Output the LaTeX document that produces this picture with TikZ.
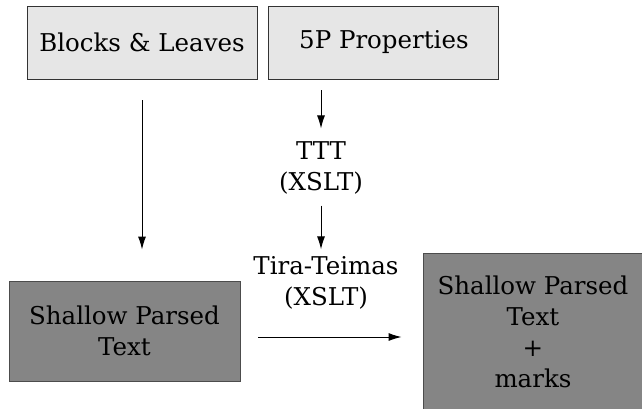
\documentclass[tikz,border=0pt]{standalone}
\usepackage{fontspec}
\setmainfont{DejaVu Serif}
\usetikzlibrary{positioning,arrows.meta,calc}

\definecolor{lightbox}{RGB}{230,230,230}
\definecolor{darkbox}{RGB}{133,133,133}

\begin{document}
\begin{tikzpicture}[
        x=1pt, y=-1pt,
        font=\fontsize{24.5}{31}\selectfont,
        block/.style={rectangle, draw=black!80, line width=0.9pt, text centered, minimum height=73pt, minimum width=230pt, fill=lightbox},
        result/.style={rectangle, draw=black!70, line width=0.9pt, align=center, fill=darkbox, inner sep=0pt},
        label/.style={align=center, inner sep=0pt},
        line/.style={draw, -{Latex[length=13pt,width=8pt]}, line width=1pt}
    ]
    \useasboundingbox (0,0) rectangle (642,408);

    % nodes
    \node[block] (blocks) at (142,42.5) {Blocks \& Leaves};
    \node[block, right=11pt of blocks] (props) {5P Properties};
    \node[label] (ttt) at (321,168) {TTT\\(XSLT)};
    \node[label] (tira) at (326,283) {Tira-Teimas\\(XSLT)};
    \node[result, minimum width=231pt, minimum height=100pt] (spt) at (124.5,331) {Shallow Parsed\\Text};
    \node[result, minimum width=220pt, minimum height=158pt] (marked) at (533,332) {Shallow Parsed\\Text\\+\\marks};

    % lines
    \path[line, shorten <=11pt, shorten >=13pt] (ttt.north |- props.south) -- (ttt.north);
    \path[line, shorten <=21pt, shorten >=31pt] (blocks.south) -- (blocks.south |- spt.north);
    \path[line, shorten <=11pt, shorten >=7pt] (ttt.south) -- (ttt.south |- tira.north);
    \path[line, shorten <=18pt, shorten >=21pt] ([yshift=-6pt]spt.east) -- ([yshift=-6pt]spt.east -| marked.west);

\end{tikzpicture}
\end{document}
